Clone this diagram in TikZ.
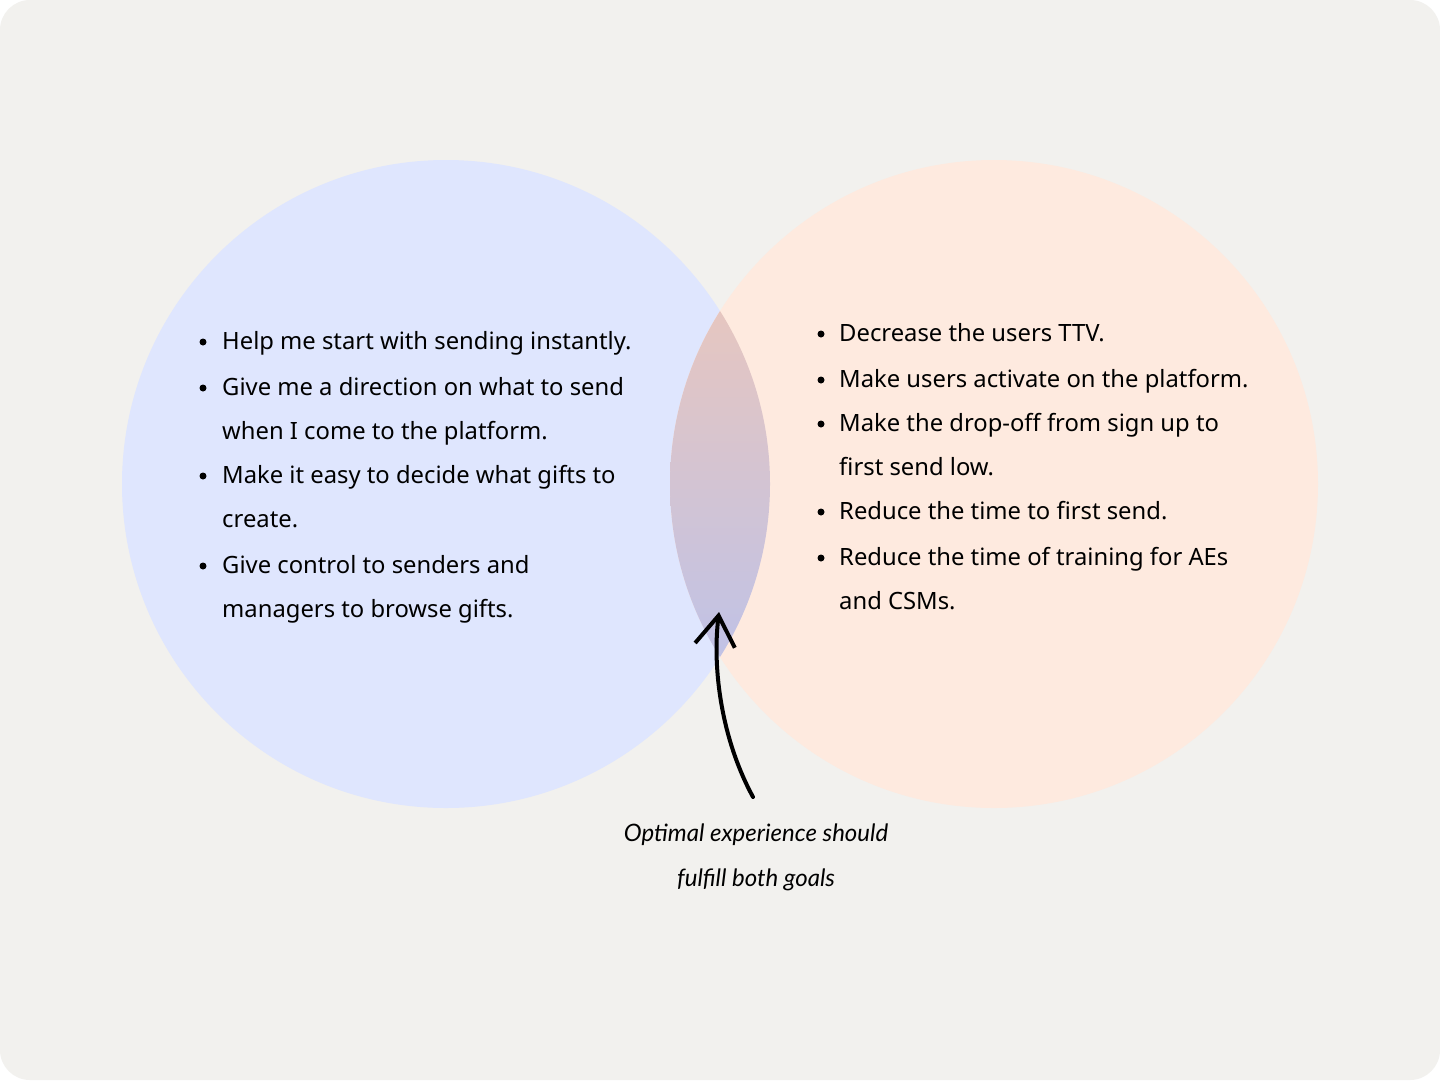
\documentclass[tikz,border=0pt]{standalone}
\usepackage{fontspec}
\setmainfont{Noto Sans}
\newfontfamily\handfont{Lato}
\usetikzlibrary{arrows.meta}
\definecolor{bg}{HTML}{F2F1EE}
\definecolor{lblue}{HTML}{DFE6FE}
\definecolor{lpeach}{HTML}{FEEADF}
\definecolor{lenstop}{HTML}{E6C6C0}
\definecolor{lensbot}{HTML}{C0C2E6}
\begin{document}
\begin{tikzpicture}[x=1pt,y=-1pt,
  item/.style={anchor=base west, inner sep=0pt, font=\fontsize{23.8}{24}\selectfont, text=black},
  dot/.style={circle, fill=black, inner sep=0pt, minimum size=7pt},
  note/.style={anchor=base, inner sep=0pt, font=\handfont\itshape\fontsize{24}{24}\selectfont, text=black},
  pointer/.style={line width=4pt, line cap=round, line join=round, -{Straight Barb[length=30pt,width=40pt,line width=4pt]}}]
\useasboundingbox (0,0) rectangle (1440,1080);
\fill[white] (0,0) rectangle (1440,1080);
\fill[bg, rounded corners=30pt] (0,0) rectangle (1440,1080);
% circles
\fill[lblue] (446,484) circle[radius=324pt];
\fill[lpeach] (994,484) circle[radius=324pt];
\begin{scope}
  \clip (446,484) circle[radius=324pt];
  \clip (994,484) circle[radius=324pt];
  \shade[top color=lenstop, bottom color=lensbot] (660,310) rectangle (780,658);
\end{scope}
% left list
\node[dot] (lb1) at (203,342) {};
\node[item] (l1) at (222,349) {Help me start with sending instantly.};
\node[dot] (lb2) at (203,388) {};
\node[item] (l2) at (222,395) {Give me a direction on what to send};
\node[item] (l2b) at (222,439) {when I come to the platform.};
\node[dot] (lb3) at (203,476) {};
\node[item] (l3) at (222,483) {Make it easy to decide what gifts to};
\node[item] (l3b) at (222,527) {create.};
\node[dot] (lb4) at (203,566) {};
\node[item] (l4) at (222,573) {Give control to senders and};
\node[item] (l4b) at (222,617) {managers to browse gifts.};
% right list
\node[dot] (rb1) at (821,334) {};
\node[item] (r1) at (839,341) {Decrease the users TTV.};
\node[dot] (rb2) at (821,380) {};
\node[item] (r2) at (839,387) {Make users activate on the platform.};
\node[dot] (rb3) at (821,424) {};
\node[item] (r3) at (839,431) {Make the drop-off from sign up to};
\node[item] (r3b) at (839,475) {first send low.};
\node[dot] (rb4) at (821,512) {};
\node[item] (r4) at (839,519) {Reduce the time to first send.};
\node[dot] (rb5) at (821,558) {};
\node[item] (r5) at (839,565) {Reduce the time of training for AEs};
\node[item] (r5b) at (839,609) {and CSMs.};
% note and arrow
\node[note] (n1) at (756,841) {Optimal experience should};
\node[note] (n2) at (756,886) {fulfill both goals};
\coordinate (tail) at (753,797);
\coordinate (tip) at (719,612);
\draw[pointer] (tail) .. controls (722,740) and (712,670) .. (tip);
\end{tikzpicture}
\end{document}
